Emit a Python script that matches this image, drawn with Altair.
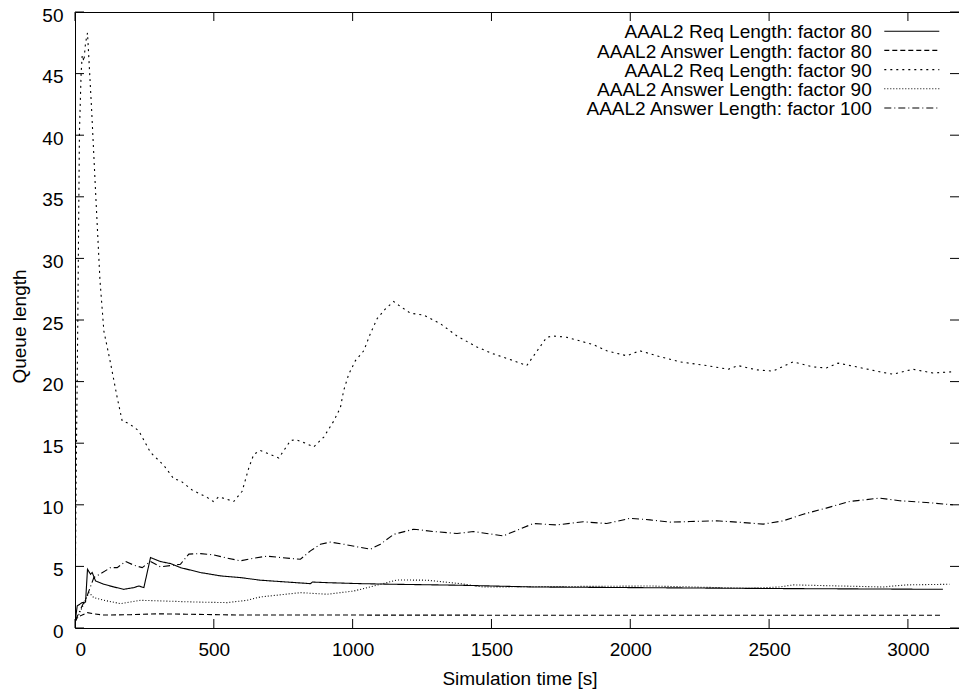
import altair as alt
import pandas as pd

# ---------------- data ----------------
series_names = [
    "AAAL2 Req Length: factor 80",
    "AAAL2 Answer Length: factor 80",
    "AAAL2 Req Length: factor 90",
    "AAAL2 Answer Length: factor 90",
    "AAAL2 Answer Length: factor 100",
]

req80_t = [0, 8, 26, 38, 45, 56, 62, 74, 104, 140, 176, 212, 230, 248, 272, 308, 344, 380,
           452, 524, 596, 668, 848, 855, 908, 1028, 1148, 1388, 1651, 1999, 2551, 3126]
req80_v = [0.4, 1.8, 2.06, 2.1, 4.77, 4.36, 4.5, 3.82, 3.55, 3.33, 3.14, 3.28, 3.41, 3.28, 5.72,
           5.39, 5.23, 4.9, 4.5, 4.23, 4.09, 3.88, 3.6, 3.73, 3.68, 3.6, 3.55, 3.47, 3.33, 3.28,
           3.2, 3.14]

ans80_t = [0, 10, 26, 45, 70, 100, 200, 300, 400, 600, 1000, 2000, 3125]
ans80_v = [0.5, 0.9, 1.05, 1.25, 1.15, 1.05, 1.08, 1.15, 1.12, 1.05, 1.05, 1.03, 1.03]

req90_t = [0, 4, 10, 16, 22, 26, 32, 38, 45, 60, 75, 90, 104, 128, 152, 170, 194, 230, 272, 320,
           356, 380, 422, 476, 498, 518, 572, 602, 626, 644, 668, 704, 734, 776, 794, 830, 860,
           896, 932, 956, 968, 986, 1010, 1040, 1064, 1088, 1118, 1148, 1172, 1208, 1256, 1316,
           1376, 1448, 1507, 1579, 1627, 1657, 1699, 1723, 1771, 1819, 1867, 1915, 1987, 2035,
           2095, 2179, 2275, 2353, 2388, 2455, 2514, 2586, 2658, 2706, 2748, 2814, 2898, 2946,
           3018, 3090, 3165]
req90_v = [0.5, 12, 24.7, 40.3, 45, 46.5, 46, 47.5, 48.3, 42, 35, 28.2, 24.1, 21.5, 18.7, 16.8,
           16.6, 16.0, 14.25, 13.2, 12.1, 11.95, 11.2, 10.6, 10.27, 10.65, 10.27, 11.1, 13.0,
           14.1, 14.4, 14.07, 13.8, 15.2, 15.3, 15.0, 14.7, 15.5, 16.8, 17.9, 19.3, 20.6, 21.7,
           22.5, 23.9, 25.1, 25.9, 26.5, 26.1, 25.55, 25.4, 24.7, 23.7, 22.8, 22.25, 21.7, 21.3,
           22.25, 23.6, 23.7, 23.6, 23.3, 23.0, 22.5, 22.1, 22.5, 22.1, 21.6, 21.3, 21.0, 21.3,
           20.95, 20.85, 21.6, 21.2, 21.1, 21.5, 21.2, 20.8, 20.6, 21.0, 20.7, 20.8]

ans90_t = [0, 14, 50, 68, 104, 164, 236, 308, 428, 548, 620, 668, 812, 908, 1004, 1100, 1160,
           1268, 1388, 1471, 1711, 2071, 2430, 2538, 2587, 2910, 2995, 3150]
ans90_v = [0.4, 1.1, 2.87, 2.46, 2.25, 1.98, 2.25, 2.2, 2.11, 2.06, 2.25, 2.52, 2.87, 2.74, 3.0,
           3.55, 3.9, 3.88, 3.6, 3.33, 3.36, 3.41, 3.22, 3.33, 3.5, 3.33, 3.5, 3.55]

ans100_t = [0, 45, 68, 92, 128, 152, 182, 212, 242, 272, 308, 356, 380, 410, 452, 500, 548, 596,
            644, 692, 740, 812, 848, 884, 920, 968, 1016, 1064, 1100, 1148, 1220, 1292, 1376,
            1435, 1543, 1651, 1735, 1831, 1915, 1999, 2071, 2143, 2215, 2311, 2407, 2479, 2551,
            2623, 2706, 2790, 2898, 2970, 3066, 3162]
ans100_v = [0.57, 2.7, 4.1, 4.4, 4.9, 4.9, 5.4, 5.1, 4.9, 5.4, 4.96, 5.1, 5.18, 6.0, 6.04, 5.93,
            5.67, 5.45, 5.67, 5.83, 5.72, 5.58, 6.26, 6.8, 6.97, 6.8, 6.59, 6.4, 6.8, 7.6, 8.02,
            7.83, 7.67, 7.83, 7.48, 8.48, 8.37, 8.62, 8.48, 8.9, 8.78, 8.59, 8.64, 8.7, 8.56,
            8.43, 8.7, 9.24, 9.73, 10.27, 10.54, 10.33, 10.19, 10.0]

x_ticks = [0, 500, 1000, 1500, 2000, 2500, 3000]
y_ticks = [0, 5, 10, 15, 20, 25, 30, 35, 40, 45, 50]

# ---------------- build tables ----------------
all_t = [req80_t, ans80_t, req90_t, ans90_t, ans100_t]
all_v = [req80_v, ans80_v, req90_v, ans90_v, ans100_v]
df = pd.concat(
    [pd.DataFrame({"t": t, "v": v, "series": n}) for n, t, v in zip(series_names, all_t, all_v)],
    ignore_index=True,
)

FONT = "Liberation Sans"
FS = 19
W, H = 884, 616

dash_scale = alt.Scale(
    domain=series_names,
    range=[[1, 0], [5, 3], [2, 4], [1, 2], [7, 3, 1, 3]],
)

x_enc = alt.X(
    "t:Q",
    scale=alt.Scale(domain=[0, 3184], nice=False, zero=False),
    axis=alt.Axis(
        values=x_ticks, format="d", tickSize=0, labelPadding=12, domain=False, grid=False,
        labelFont=FONT, labelFontSize=FS, labelColor="black",
        title="Simulation time [s]", titleFont=FONT, titleFontSize=FS,
        titleFontWeight="normal", titleColor="black",
        titleX=444.5, titleY=56, titleBaseline="alphabetic", titleAlign="center",
    ),
)
y_enc = alt.Y(
    "v:Q",
    scale=alt.Scale(domain=[0, 50], nice=False),
    axis=alt.Axis(
        values=y_ticks, format="d", tickSize=0, labelPadding=12, labelOffset=3, domain=False,
        grid=False, labelFont=FONT, labelFontSize=FS, labelColor="black",
        title="Queue length", titleFont=FONT, titleFontSize=FS,
        titleFontWeight="normal", titleColor="black",
        titleX=-49.5, titleY=314, titleAngle=270, titleBaseline="alphabetic", titleAlign="center",
    ),
)

lines = alt.Chart(df).mark_line(color="black", strokeWidth=1.1, clip=True).encode(
    x=x_enc,
    y=y_enc,
    strokeDash=alt.StrokeDash("series:N", scale=dash_scale, legend=None),
    order="t:Q",
)

xt = pd.DataFrame({"t": x_ticks})
yt = pd.DataFrame({"v": y_ticks})
tick_len = 9
bottom_ticks = alt.Chart(xt).mark_rule(color="black", strokeWidth=1).encode(
    x=x_enc, y=alt.value(H), y2=alt.value(H - tick_len))
top_ticks = alt.Chart(xt).mark_rule(color="black", strokeWidth=1).encode(
    x=x_enc, y=alt.value(0), y2=alt.value(tick_len))
left_ticks = alt.Chart(yt).mark_rule(color="black", strokeWidth=1).encode(
    y=y_enc, x=alt.value(0), x2=alt.value(tick_len))
right_ticks = alt.Chart(yt).mark_rule(color="black", strokeWidth=1).encode(
    y=y_enc, x=alt.value(W), x2=alt.value(W - tick_len))

# ---------------- legend (gnuplot style: label right-aligned, sample on the right) ----------------
legend_layers = []
for i, name in enumerate(series_names):
    ld = pd.DataFrame({"series": [name]})
    legend_layers.append(
        alt.Chart(ld).mark_text(align="right", baseline="middle", font=FONT, fontSize=FS,
                                color="black").encode(
            x=alt.value(796.7), y=alt.value(20.3 + 19.2 * i), text="series:N")
    )
    legend_layers.append(
        alt.Chart(ld).mark_rule(color="black", strokeWidth=1.1).encode(
            x=alt.value(809.3), x2=alt.value(864.3), y=alt.value(19.2 + 19.2 * i),
            strokeDash=alt.StrokeDash("series:N", scale=dash_scale, legend=None))
    )

chart = alt.layer(
    lines, bottom_ticks, top_ticks, left_ticks, right_ticks, *legend_layers
).properties(
    width=W,
    height=H,
    padding={"left": 75, "top": 12, "right": 0, "bottom": 62},
    autosize=alt.AutoSizeParams(type="none"),
    background="white",
).configure_view(
    stroke="black", strokeWidth=1
)

chart.save("out.html", embed_options={"renderer": "svg", "actions": False})
